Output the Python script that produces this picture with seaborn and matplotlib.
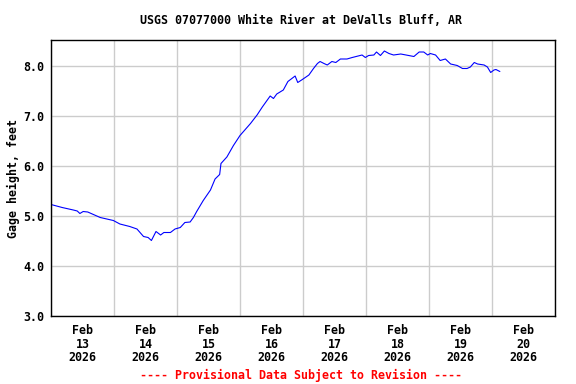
import matplotlib
matplotlib.use("Agg")
import matplotlib.pyplot as plt
import matplotlib.dates as mdates
import pandas as pd
import seaborn as sns

# readings (local time), gage height in feet
times = [
    "2026-02-13 00:00", "2026-02-13 04:15", "2026-02-13 08:30", "2026-02-13 10:00",
    "2026-02-13 11:00", "2026-02-13 12:15", "2026-02-13 14:00", "2026-02-13 18:45",
    "2026-02-13 23:45", "2026-02-14 02:15", "2026-02-14 06:00", "2026-02-14 08:45",
    "2026-02-14 11:15", "2026-02-14 13:00", "2026-02-14 14:15", "2026-02-14 16:00",
    "2026-02-14 17:45", "2026-02-14 19:00", "2026-02-14 21:30", "2026-02-14 23:15",
    "2026-02-15 01:15", "2026-02-15 03:00", "2026-02-15 05:00", "2026-02-15 06:15",
    "2026-02-15 07:30", "2026-02-15 10:00", "2026-02-15 12:45", "2026-02-15 14:30",
    "2026-02-15 16:15", "2026-02-15 16:45", "2026-02-15 19:00", "2026-02-15 21:30",
    "2026-02-16 00:00", "2026-02-16 04:00", "2026-02-16 06:30", "2026-02-16 08:30",
    "2026-02-16 11:30", "2026-02-16 12:45", "2026-02-16 14:00", "2026-02-16 16:30",
    "2026-02-16 18:15", "2026-02-16 19:45", "2026-02-16 21:00", "2026-02-16 22:00",
    "2026-02-16 23:45", "2026-02-17 02:15", "2026-02-17 04:00", "2026-02-17 05:30",
    "2026-02-17 06:30", "2026-02-17 08:00", "2026-02-17 09:15", "2026-02-17 11:00",
    "2026-02-17 12:30", "2026-02-17 14:15", "2026-02-17 16:45", "2026-02-17 18:45",
    "2026-02-17 22:30", "2026-02-17 23:45", "2026-02-18 01:00", "2026-02-18 03:00",
    "2026-02-18 04:00", "2026-02-18 05:30", "2026-02-18 07:00", "2026-02-18 08:45",
    "2026-02-18 10:30", "2026-02-18 13:15", "2026-02-18 16:15", "2026-02-18 18:15",
    "2026-02-18 20:15", "2026-02-18 22:00", "2026-02-18 23:30", "2026-02-19 00:30",
    "2026-02-19 02:30", "2026-02-19 04:15", "2026-02-19 06:15", "2026-02-19 08:15",
    "2026-02-19 10:45", "2026-02-19 12:45", "2026-02-19 14:30", "2026-02-19 15:45",
    "2026-02-19 17:15", "2026-02-19 18:30", "2026-02-19 21:00", "2026-02-19 22:15",
    "2026-02-19 23:30", "2026-02-20 00:45", "2026-02-20 01:30", "2026-02-20 03:00",
]
gage_ft = [
    5.23, 5.17, 5.12, 5.10,
    5.05, 5.09, 5.08, 4.97,
    4.91, 4.84, 4.79, 4.74,
    4.59, 4.57, 4.51, 4.69,
    4.62, 4.67, 4.67, 4.74,
    4.77, 4.87, 4.88, 4.97,
    5.09, 5.31, 5.52, 5.74,
    5.83, 6.05, 6.18, 6.41,
    6.61, 6.85, 7.02, 7.18,
    7.40, 7.35, 7.44, 7.52,
    7.69, 7.75, 7.80, 7.67,
    7.73, 7.82, 7.95, 8.05,
    8.09, 8.05, 8.02, 8.09,
    8.07, 8.14, 8.14, 8.17,
    8.22, 8.17, 8.21, 8.22,
    8.28, 8.21, 8.30, 8.25,
    8.22, 8.24, 8.21, 8.19,
    8.28, 8.28, 8.22, 8.25,
    8.22, 8.11, 8.14, 8.04,
    8.01, 7.95, 7.95, 7.98,
    8.07, 8.04, 8.02, 7.98,
    7.87, 7.92, 7.93, 7.89,
]
y_ticks = [3.0, 4.0, 5.0, 6.0, 7.0, 8.0]

df = pd.DataFrame({"time": pd.to_datetime(times), "gage": gage_ft})

sns.set_style("white")
plt.rcParams["font.family"] = ["DejaVu Sans Mono"]
plt.rcParams["font.weight"] = "bold"
plt.rcParams["text.color"] = "black"
plt.rcParams["axes.labelcolor"] = "black"
plt.rcParams["xtick.color"] = "black"
plt.rcParams["ytick.color"] = "black"
fs = 8.4

fig = plt.figure(figsize=(5.76, 3.84), dpi=100)
ax = fig.add_axes([51 / 576, 1 - 316 / 384, 504 / 576, 276 / 384])

sns.lineplot(data=df, x="time", y="gage", ax=ax, color="#0000ff", linewidth=0.8)

ax.set_xlim(pd.Timestamp("2026-02-13"), pd.Timestamp("2026-02-21"))
ax.set_ylim(3.0, 8.52)

# gridlines at midnight, labels at noon
ax.xaxis.set_major_locator(mdates.DayLocator())
ax.xaxis.set_major_formatter(plt.NullFormatter())
ax.xaxis.set_minor_locator(mdates.HourLocator(byhour=[12]))
ax.xaxis.set_minor_formatter(mdates.DateFormatter("%b\n%d\n%Y"))
ax.tick_params(axis="x", which="both", length=0, labelsize=fs, pad=6, labelcolor="black")
for lbl in ax.xaxis.get_minorticklabels():
    lbl.set_fontweight("bold")
    lbl.set_linespacing(1.05)

ax.set_yticks(y_ticks)
ax.set_yticklabels([f"{v:.1f}" for v in y_ticks], fontweight="bold")
ax.tick_params(axis="y", length=0, labelsize=fs, pad=5, labelcolor="black")

ax.grid(True, which="major", color="#cccccc", linewidth=1.0)
ax.set_axisbelow(True)
for s in ax.spines.values():
    s.set_color("black")
    s.set_linewidth(1.0)
    s.set_visible(True)

ax.set_xlabel("")
ax.set_ylabel("Gage height, feet", fontsize=fs, fontweight="bold", color="black")
ax.yaxis.set_label_coords(-0.062, 0.5)

fig.text(301 / 576, 1 - 20 / 384, "USGS 07077000 White River at DeValls Bluff, AR",
         ha="center", va="center", fontsize=fs, fontweight="bold", color="black")
fig.text(301 / 576, 1 - 375 / 384, "---- Provisional Data Subject to Revision ----",
         ha="center", va="center", fontsize=fs, fontweight="bold", color="red")

fig.savefig("out.png", dpi=100, facecolor="white")
